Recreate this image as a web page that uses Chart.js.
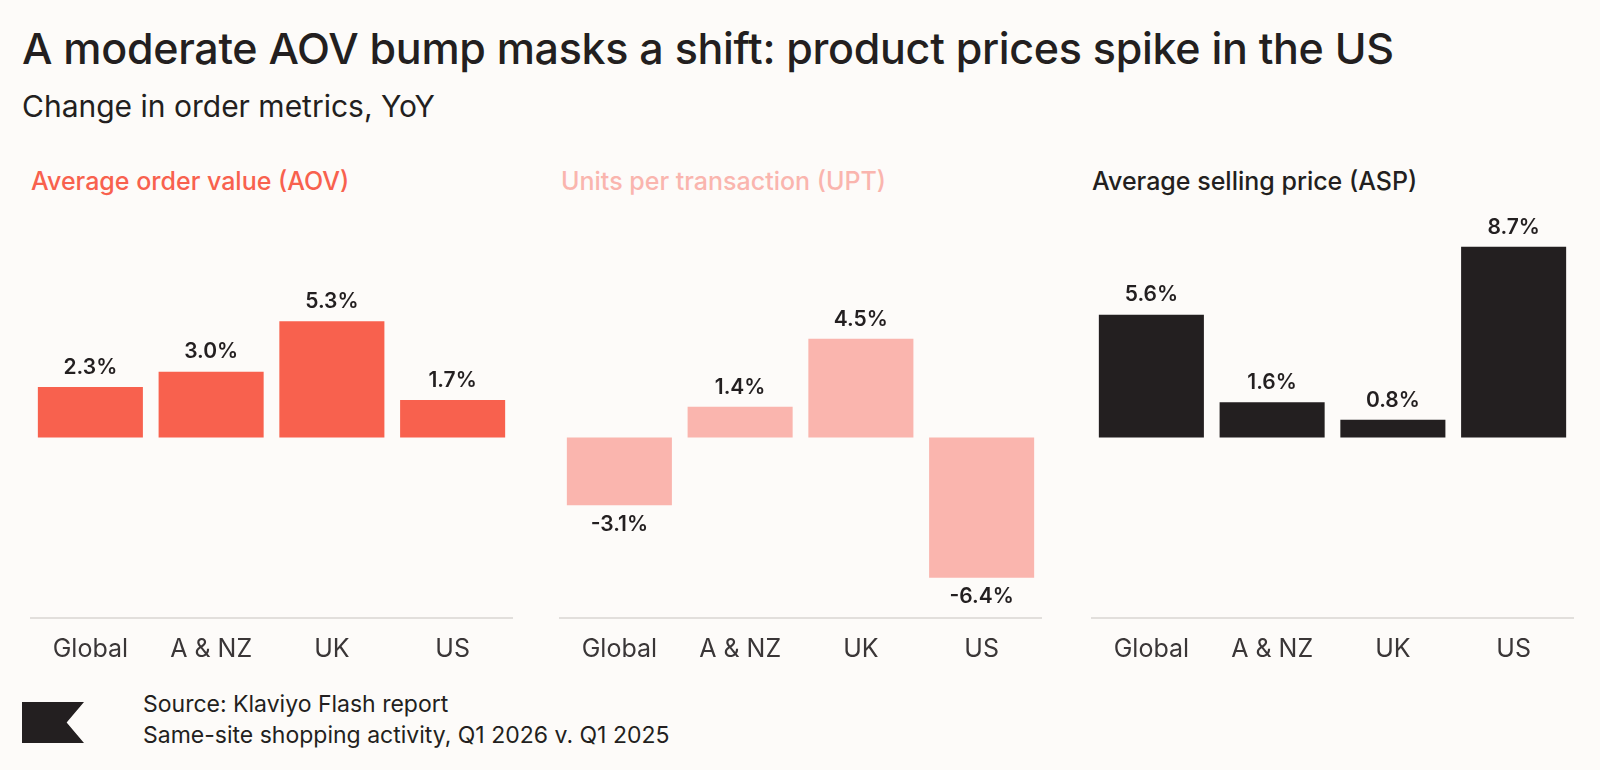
<!DOCTYPE html>
<html><head><meta charset="utf-8">
<script src="https://cdn.jsdelivr.net/npm/chart.js@4"></script>
<style>
body{margin:0;background:#fdfbf9;font-family:Inter,"Noto Sans",sans-serif;color:#231f20;width:1600px;height:770px;position:relative;overflow:hidden}
.t{position:absolute;white-space:nowrap}
.box{position:absolute;top:200px;width:483px;height:480px}
</style></head><body>
<div class="t" style="left:22px;top:22px;font-size:43px;font-weight:500;letter-spacing:-0.3px">A moderate AOV bump masks a shift: product prices spike in the US</div>
<div class="t" style="left:22px;top:88px;font-size:30px">Change in order metrics, YoY</div>
<div class="t" style="left:31px;top:166px;font-size:25px;font-weight:500;color:#f8614e">Average order value (AOV)</div>
<div class="t" style="left:561px;top:166px;font-size:25px;font-weight:500;color:#fab5ae">Units per transaction (UPT)</div>
<div class="t" style="left:1092px;top:166px;font-size:25px;font-weight:500">Average selling price (ASP)</div>
<div class="box" style="left:30px"><canvas id="c1"></canvas></div>
<div class="box" style="left:559px"><canvas id="c2"></canvas></div>
<div class="box" style="left:1091px"><canvas id="c3"></canvas></div>
<div style="position:absolute;left:22px;top:702px;width:62px;height:41px;background:#231f20;clip-path:polygon(0 0,100% 0,72% 50%,100% 100%,0 100%)"></div>
<div class="t" style="left:143px;top:690px;font-size:23px">Source: Klaviyo Flash report</div>
<div class="t" style="left:143px;top:721px;font-size:23px">Same-site shopping activity, Q1 2026 v. Q1 2025</div>
<script>
"use strict"

const regions = ['Global', 'A & NZ', 'UK', 'US'];
const aov = [2.3, 3.0, 5.3, 1.7];
const upt = [-3.1, 1.4, 4.5, -6.4];
const asp = [5.6, 1.6, 0.8, 8.7];

const valueLabels = {
    id: 'valueLabels',
    afterDatasetsDraw(chart) {
        const ctx = chart.ctx;
        ctx.save();
        ctx.font = '600 21px Inter, "Noto Sans", sans-serif';
        ctx.fillStyle = '#231f20';
        ctx.textAlign = 'center';
        chart.getDatasetMeta(0).data.forEach((bar, i) => {
            const v = chart.data.datasets[0].data[i];
            if (v >= 0) {
                ctx.textBaseline = 'bottom';
                ctx.fillText(v.toFixed(1) + '%', bar.x, bar.y - 9);
            } else {
                ctx.textBaseline = 'top';
                ctx.fillText(v.toFixed(1) + '%', bar.x, bar.y + 9);
            }
        });
        ctx.restore();
    }
};

function makeChart(id, values, color) {
    return new Chart(document.getElementById(id).getContext('2d'), {
        type: 'bar',
        data: {
            labels: regions,
            datasets: [{ data: values, backgroundColor: color, barPercentage: 0.87, categoryPercentage: 1 }]
        },
        options: {
            responsive: true,
            maintainAspectRatio: false,
            animation: false,
            layout: { padding: 0 },
            plugins: { legend: { display: false }, tooltip: { enabled: false } },
            scales: {
                x: {
                    grid: { display: false, drawTicks: false },
                    border: { display: true, color: '#e2dfdc', width: 2 },
                    ticks: { color: '#3a3637', padding: 16, font: { size: 25, family: 'Inter, "Noto Sans", sans-serif' } }
                },
                y: { display: false, min: -8.24, max: 10.83 }
            }
        },
        plugins: [valueLabels]
    });
}

makeChart('c1', aov, '#f8614e');
makeChart('c2', upt, '#fab5ae');
makeChart('c3', asp, '#231f20');
</script>
</body></html>
